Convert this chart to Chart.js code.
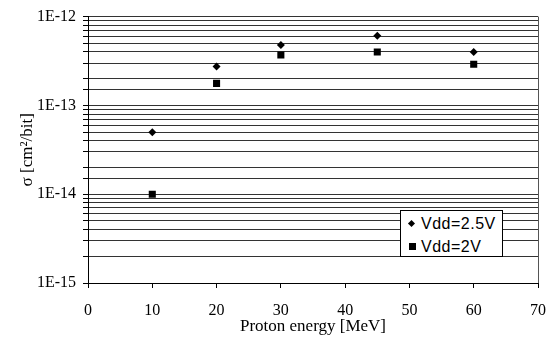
<!DOCTYPE html>
<html>
<head>
<meta charset="utf-8">
<script src="https://cdn.jsdelivr.net/npm/chart.js@4"></script>
<style>
  html, body { margin: 0; padding: 0; background: #fff; }
  #wrap { position: relative; width: 551px; height: 337px; }
  #legend { position: absolute; left: 400px; top: 210px; width: 103px; height: 47px;
    border: 1px solid #000; background: #fff; box-sizing: border-box;
    font: 16px "Liberation Sans", Arial, sans-serif; letter-spacing: 0.5px; color: #000; }
  #legend .row { position: absolute; left: 20px; line-height: 18px; white-space: nowrap; }
  #legend .mk { position: absolute; background: #000; }
</style>
</head>
<body>
<div id="wrap">
  <canvas id="c" width="551" height="337"></canvas>
  <div id="legend">
    <span class="mk" style="left:8px;top:10px;width:5px;height:5px;transform:rotate(45deg)"></span>
    <div class="row" style="top:4px">Vdd=2.5V</div>
    <span class="mk" style="left:8px;top:32px;width:7px;height:7px"></span>
    <div class="row" style="top:27px">Vdd=2V</div>
  </div>
</div>
<script>
// energies in MeV
const energies = [10, 20, 30, 45, 60];
// cross sections cm2/bit
const sigma25 = [5.0e-14, 2.75e-13, 4.8e-13, 6.1e-13, 4.0e-13];
const sigma20 = [1.0e-14, 1.77e-13, 3.7e-13, 4.0e-13, 2.9e-13];
const seriesNames = ['Vdd=2.5V', 'Vdd=2V'];
const xTicks = [0, 10, 20, 30, 40, 50, 60, 70];

const serif = '"Liberation Serif", "Times New Roman", serif';

function pts(ys) {
  return energies.map((x, i) => ({ x: x, y: ys[i] }));
}

new Chart(document.getElementById('c'), {
  type: 'scatter',
  data: {
    datasets: [
      { label: seriesNames[0], data: pts(sigma25), pointStyle: 'rectRot', pointRadius: 4,
        backgroundColor: '#000', borderColor: '#000', borderWidth: 0 },
      { label: seriesNames[1], data: pts(sigma20), pointStyle: 'rect', pointRadius: 5,
        backgroundColor: '#000', borderColor: '#000', borderWidth: 0 }
    ]
  },
  options: {
    responsive: false,
    animation: false,
    layout: { padding: { left: 0, right: 13, top: 14, bottom: 0 } },
    plugins: { legend: { display: false }, tooltip: { enabled: false } },
    scales: {
      x: {
        type: 'linear', min: 0, max: 70,
        // fixed height, and drop the extra side padding chart.js adds for the last label
        afterFit(s) { s.height = 54; s.paddingRight = 0; s.paddingLeft = 0; },
        afterBuildTicks(s) { s.ticks = xTicks.map(v => ({ value: v })); },
        grid: {
          color: ctx => (ctx.tick && ctx.tick.value === 70) ? '#555' : 'rgba(0,0,0,0)',
          tickColor: '#000', tickLength: 5
        },
        border: { color: '#000', width: 1 },
        ticks: { color: '#000', padding: 13, font: { family: serif, size: 16 } },
        title: { display: true, text: 'Proton energy [MeV]', color: '#000',
          font: { family: serif, size: 17 }, padding: { top: 0, bottom: 0 } }
      },
      y: {
        type: 'logarithmic', min: 1e-15, max: 1e-12,
        afterFit(s) { s.width = 88; },
        grid: { color: '#333', tickColor: '#000', tickLength: 5 },
        border: { color: '#000', width: 1 },
        ticks: {
          autoSkip: false, color: '#000', padding: 7, font: { family: serif, size: 16 },
          callback(v) {
            const e = Math.log10(v);
            if (Math.abs(e - Math.round(e)) < 1e-6) return '1E' + Math.round(e);
            return '';
          }
        },
        title: { display: true, text: 'σ [cm²/bit]', color: '#000',
          font: { family: serif, size: 17 }, padding: { top: 17, bottom: 0 } }
      }
    }
  }
});
</script>
</body>
</html>
